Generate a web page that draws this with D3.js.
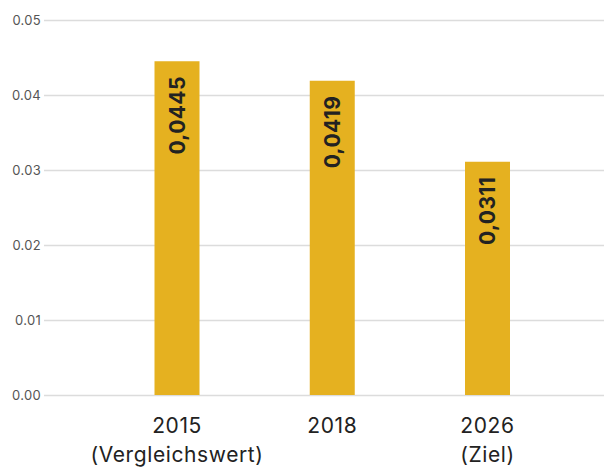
<!DOCTYPE html>
<html>
<head>
<meta charset="utf-8">
<script src="https://cdn.jsdelivr.net/npm/d3@7"></script>
<style>
  body { margin: 0; background: #fff; }
  svg text { font-family: "Inter", "DejaVu Sans", sans-serif; }
</style>
</head>
<body>
<div id="chart"></div>
<script>
// data
const categories = ["2015", "2018", "2026"];
const subLabels = ["(Vergleichswert)", "", "(Ziel)"];
const values = [0.0445, 0.0419, 0.0311];
const valueLabels = ["0,0445", "0,0419", "0,0311"];
const yTicks = [0, 0.01, 0.02, 0.03, 0.04, 0.05];

const width = 604, height = 467;
const barColor = "#e5b120";

const svg = d3.select("#chart").append("svg")
  .attr("width", width)
  .attr("height", height);

const y = d3.scaleLinear()
  .domain([0, 0.05])
  .range([395, 20]);

// bar centres
const x = d3.scalePoint()
  .domain(categories)
  .range([177, 487.5]);
const barW = 45;

// grid + y labels
const yAxis = d3.axisLeft(y)
  .tickValues(yTicks)
  .tickFormat(d3.format(".2f"))
  .tickSize(-(width - 44))
  .tickPadding(4);

svg.append("g")
  .attr("transform", "translate(44,0)")
  .call(yAxis)
  .call(g => g.select(".domain").remove())
  .call(g => g.selectAll(".tick line").attr("stroke", "#dcdcdc").attr("stroke-width", 1.5))
  .call(g => g.selectAll(".tick text")
    .attr("fill", "#555")
    .style("font-size", "13px")
    .style("letter-spacing", "0.3px")
    .attr("x", -3));

// bars
svg.append("g").selectAll("rect")
  .data(values)
  .join("rect")
  .attr("x", (d, i) => x(categories[i]) - barW / 2)
  .attr("width", barW)
  .attr("y", d => y(d))
  .attr("height", d => y(0) - y(d))
  .attr("fill", barColor);

// rotated value labels
svg.append("g").selectAll("text")
  .data(values)
  .join("text")
  .attr("transform", (d, i) => "translate(" + (x(categories[i]) + 7.5) + "," + (y(d) + 15) + ") rotate(-90)")
  .attr("text-anchor", "end")
  .attr("fill", "#222")
  .style("font-size", "21px")
  .style("font-weight", "bold")
  .style("letter-spacing", "0.4px")
  .text((d, i) => valueLabels[i]);

// category labels
const cat = svg.append("g").selectAll("g")
  .data(categories)
  .join("g")
  .attr("transform", d => "translate(" + x(d) + ",0)");

cat.append("text")
  .attr("y", 433)
  .attr("text-anchor", "middle")
  .attr("fill", "#222")
  .style("font-size", "21px")
  .style("letter-spacing", "0.6px")
  .text(d => d);

cat.append("text")
  .attr("y", 462)
  .attr("text-anchor", "middle")
  .attr("fill", "#222")
  .style("font-size", "21px")
  .style("letter-spacing", "0.6px")
  .text((d, i) => subLabels[i]);
</script>
</body>
</html>
